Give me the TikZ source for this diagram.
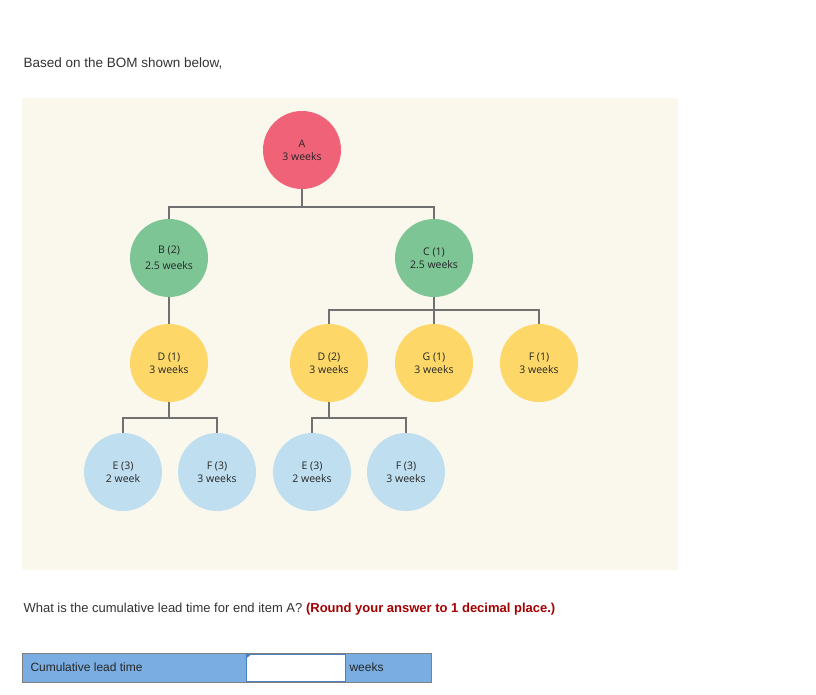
\documentclass[tikz,border=0pt]{standalone}
\usepackage{fontspec}
\setmainfont{Liberation Sans}
\newfontfamily\nodefont{Open Sans}
\definecolor{bgc}{HTML}{FAF8EC}
\definecolor{redc}{HTML}{F06277}
\definecolor{greenc}{HTML}{7DC595}
\definecolor{yellowc}{HTML}{FDD768}
\definecolor{bluec}{HTML}{BFDFF0}
\definecolor{linec}{HTML}{707070}
\definecolor{ansred}{HTML}{A50000}
\definecolor{boxblue}{HTML}{7AAEE3}
\definecolor{boxedge}{HTML}{4A7FC0}
\begin{document}
\begin{tikzpicture}[x=1pt,y=-1pt,
  bom/.style={circle,minimum size=78pt,inner sep=0pt,align=center,font=\nodefont\fontsize{10.5}{13}\selectfont,text=black!85},
  conn/.style={draw=linec,line width=1.2pt}]
\useasboundingbox (0,0) rectangle (816,694);
\fill[white] (0,0) rectangle (816,694);
\node[anchor=west,font=\fontsize{13.5}{16}\selectfont,text=black!80] (hdr) at (20,63) {Based on the BOM shown below,};
\fill[bgc] (22,98) rectangle (678,570);
\node[bom,fill=redc] (A) at (302,150) {A\\3 weeks};
\node[bom,fill=greenc] (B) at (169,258) {B (2)\\[3pt]2.5 weeks};
\node[bom,fill=greenc] (C) at (434,258) {C (1)\\2.5 weeks};
\node[bom,fill=yellowc] (D1) at (169,363) {D (1)\\3 weeks};
\node[bom,fill=yellowc] (D2) at (329,363) {D (2)\\3 weeks};
\node[bom,fill=yellowc] (G) at (434,363) {G (1)\\3 weeks};
\node[bom,fill=yellowc] (F1) at (539,363) {F (1)\\3 weeks};
\node[bom,fill=bluec] (E1) at (123,472) {E (3)\\2 week};
\node[bom,fill=bluec] (F3a) at (217,472) {F (3)\\3 weeks};
\node[bom,fill=bluec] (E3b) at (312,472) {E (3)\\2 weeks};
\node[bom,fill=bluec] (F3b) at (406,472) {F (3)\\3 weeks};
\draw[conn] (A.south) -- (302,207);
\draw[conn] (B.north) |- (302,207) -| (C.north);
\draw[conn] (B.south) -- (D1.north);
\draw[conn] (C.south) -- (G.north);
\draw[conn] (D2.north) |- (434,310) -| (F1.north);
\draw[conn] (D1.south) -- (169,418);
\draw[conn] (E1.north) |- (169,418) -| (F3a.north);
\draw[conn] (D2.south) -- (329,418);
\draw[conn] (E3b.north) |- (329,418) -| (F3b.north);
\node[anchor=west,font=\fontsize{13}{16}\selectfont,text=black!80] (q) at (20,609) {What is the cumulative lead time for end item A? \textcolor{ansred}{\textbf{(Round your answer to 1 decimal place.)}}};
\node[draw=gray,fill=boxblue,minimum width=409pt,minimum height=29pt,inner sep=0pt] (box) at (226.5,667.5) {};
\node[draw=boxedge,fill=white,minimum width=99pt,minimum height=27pt,inner sep=0pt] (inp) at (295.5,667.5) {};
\fill[boxedge] (inp.north west) -- ++(6,0) -- ++(-6,5) -- cycle;
\node[anchor=west,font=\fontsize{12}{14}\selectfont,text=black!85] (lbl) at (27,667.5) {Cumulative lead time};
\node[anchor=west,font=\fontsize{12}{14}\selectfont,text=black!85] (wk) at (346,667.5) {weeks};
\end{tikzpicture}
\end{document}
